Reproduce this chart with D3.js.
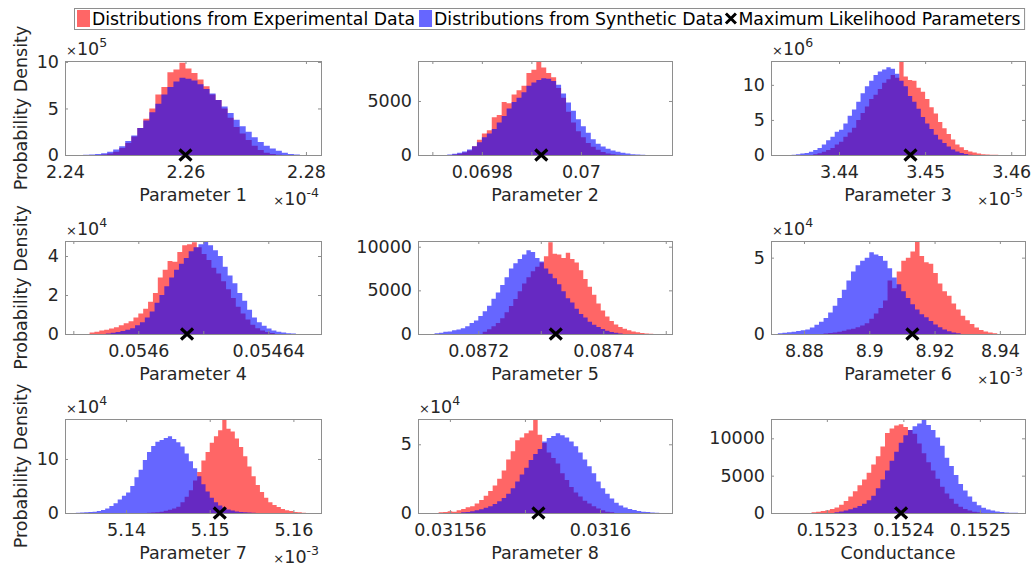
<!DOCTYPE html>
<html>
<head>
<meta charset="utf-8">
<script src="https://cdn.jsdelivr.net/npm/d3@7"></script>
<style>
body { margin: 0; background: #fff; }
svg { display: block; font-family: "DejaVu Sans", sans-serif; }
</style>
</head>
<body>
<svg width="1034" height="579"></svg>
<script>
// ---- data ----
var xLabels = ["Parameter 1", "Parameter 2", "Parameter 3", "Parameter 4", "Parameter 5",
  "Parameter 6", "Parameter 7", "Parameter 8", "Conductance"];
var legendLabels = ["Distributions from Experimental Data", "Distributions from Synthetic Data",
  "Maximum Likelihood Parameters"];

var xLimits = [[2.24, 2.2825], [0.069671, 0.070184], [3.4321, 3.4616], [0.05457744, 0.05465622],
  [0.0871035, 0.08751], [8.8699, 8.9477], [5.1327, 5.1633], [0.0315515, 0.0316192], [0.152227, 0.152559]];
var yLimits = [10.1, 8700, 13.4, 4.77, 10655, 6.09, 17.4, 6.84, 12587];

var xTicks = [[2.24, 2.26, 2.28], [0.0697, 0.0698, 0.0699, 0.07], [3.44, 3.45, 3.46],
  [0.05458, 0.0546, 0.05462, 0.05464], [0.0872, 0.0873, 0.0874, 0.0875], [8.88, 8.9, 8.92, 8.94],
  [5.14, 5.15, 5.16], [0.03156, 0.03158, 0.0316], [0.1523, 0.1524, 0.1525]];
var xTickText = [["2.24", "2.26", "2.28"], ["", "0.0698", "", "0.07"], ["3.44", "3.45", "3.46"],
  ["", "0.0546", "", "0.05464"], ["0.0872", "", "0.0874", ""], ["8.88", "8.9", "8.92", "8.94"],
  ["5.14", "5.15", "5.16"], ["0.03156", "", "0.0316"], ["0.1523", "0.1524", "0.1525"]];
var yTicks = [[0, 5, 10], [0, 5000], [0, 5, 10], [0, 2, 4], [0, 5000, 10000], [0, 5], [0, 10], [0, 5], [0, 5000, 10000]];
var yExponent = [5, null, 6, 4, null, 4, 4, 4, null];
var xExponent = [-4, null, -5, null, null, -3, -3, null, null];

var mleValues = [2.26, 0.06992, 3.4483, 0.054615, 0.087324, 8.9132, 5.1512, 0.0315836, 0.152397];

// histogram bins: first edge + width, heights per bin
var expFirstEdge = [2.246, 0.06974, 3.437, 0.054585, 0.087207, 8.886, 5.1425, 0.031557, 0.15228];
var synFirstEdge = [2.243, 0.06973, 3.4345, 0.05459, 0.08713, 8.872, 5.134, 0.031563, 0.15231];
var binWidths = [0.001, 0.00001, 0.0005, 0.0000015, 0.000007, 0.0014, 0.0005, 0.0000012, 0.000006];

var exp1 = [0.05,0.15,0.35,0.75,1.3,2.0,2.9,3.9,5.0,6.5,7.3,8.9,9.2,9.9,9.3,8.8,8.1,7.4,6.5,5.9,5.0,4.0,3.0,2.3,1.6,1.0,0.55,0.25,0.1,0.03];
var syn1 = [0.02,0.05,0.1,0.2,0.35,0.6,0.95,1.5,2.1,2.9,3.7,4.6,5.5,6.5,7.3,7.9,8.3,8.2,8.0,7.6,7.1,6.6,5.9,5.2,4.5,3.8,3.1,2.5,1.9,1.4,1.0,0.7,0.45,0.25,0.12,0.05];
var exp2 = [40,110,230,420,800,1400,2000,2300,3500,3700,4900,4800,5600,6000,6400,7600,7900,8600,8100,7600,7200,6200,5300,4000,3000,2200,1650,1100,760,480,280,150,70,30];
var syn2 = [50,110,200,330,520,800,1180,1650,2000,2400,3000,3600,4300,4900,5300,5800,6400,6700,6950,7100,7050,6850,6500,5700,4850,4100,3300,2650,2050,1450,1050,780,580,420,300,210,130,80,45,22,8];
var exp3 = [0.1,0.25,0.45,0.7,1.0,1.5,1.9,2.6,3.2,3.9,5.0,6.0,6.9,8.0,8.6,9.4,10.3,10.8,11.4,11.0,13.3,11.2,10.7,10.6,9.6,9.0,8.0,6.8,5.9,4.7,3.8,3.0,2.2,1.5,1.1,0.7,0.5,0.35,0.2,0.12,0.08,0.05,0.03];
var syn3 = [0.05,0.1,0.2,0.3,0.45,0.7,1.0,1.5,2.1,2.6,3.3,3.6,4.5,5.6,6.5,7.6,8.8,9.8,10.6,11.4,11.9,12.2,12.5,12.3,11.6,10.6,9.8,8.4,7.6,6.6,5.4,4.5,3.7,2.9,2.2,1.7,1.2,0.8,0.5,0.3,0.15,0.05];
var exp4 = [0.08,0.12,0.18,0.22,0.28,0.35,0.45,0.55,0.65,0.85,1.05,1.3,1.65,2.1,2.9,3.3,3.75,3.7,4.2,4.55,4.6,4.7,4.45,4.1,3.8,3.4,3.1,2.7,2.3,1.85,1.4,1.05,0.75,0.48,0.3,0.18,0.1,0.05];
var syn4 = [0.03,0.06,0.1,0.15,0.22,0.3,0.45,0.6,0.85,1.15,1.6,2.0,2.45,2.9,3.3,3.6,3.9,4.25,4.45,4.6,4.75,4.55,4.3,4.0,3.45,3.0,2.6,2.1,1.7,1.25,0.85,0.6,0.42,0.28,0.18,0.12,0.08,0.04,0.02];
var exp5 = [250,550,900,1250,1800,2500,3200,4000,4900,5800,6500,7200,7700,8200,8900,10500,9200,9100,8700,9300,8600,8200,7300,6300,5400,4500,3500,2700,2000,1500,1100,800,600,420,300,200,120,60,30];
var syn5 = [80,140,250,300,420,520,650,900,1250,1550,2050,2600,3250,4050,4750,5600,6500,7500,8100,8600,9100,9600,9400,8700,8300,7500,6900,6400,5700,4900,4100,3600,2900,2300,1900,1400,1050,800,560,380,240,140,70];
var exp6 = [0.03,0.06,0.1,0.15,0.22,0.3,0.35,0.45,0.55,0.7,1.0,1.35,1.7,2.2,3.5,3.0,4.1,4.8,5.0,5.4,6.05,5.1,4.7,4.6,4.0,3.3,2.8,2.5,2.0,1.6,1.2,0.9,0.65,0.42,0.26,0.16,0.1,0.05];
var syn6 = [0.05,0.08,0.12,0.15,0.2,0.25,0.3,0.42,0.6,0.8,1.05,1.4,1.85,2.35,2.9,3.5,4.1,4.5,4.8,5.0,5.35,5.2,5.1,4.8,4.3,3.7,3.25,2.8,2.35,1.95,1.6,1.3,1.1,0.85,0.62,0.45,0.3,0.18,0.1,0.05];
var exp7 = [0.05,0.08,0.15,0.25,0.4,0.6,0.85,1.15,2.0,3.0,4.2,6.0,7.6,9.7,11.3,13.0,14.2,15.3,17.3,15.6,15.1,13.8,12.2,10.5,8.6,6.8,5.2,3.9,2.8,2.0,1.5,1.1,0.75,0.5,0.35,0.2,0.12,0.06];
var syn7 = [0.05,0.08,0.12,0.18,0.25,0.38,0.55,0.85,1.3,1.8,2.5,3.2,3.8,5.0,6.6,8.0,9.8,11.3,12.4,13.2,13.5,13.9,14.2,13.7,13.1,12.3,11.0,9.6,8.3,6.8,5.3,4.0,2.8,2.0,1.4,1.0,0.65,0.45,0.3,0.2,0.12,0.07,0.04];
var exp8 = [0.05,0.08,0.12,0.1,0.2,0.3,0.42,0.5,0.7,0.95,1.25,1.6,2.0,2.5,3.1,3.9,4.5,5.3,5.5,5.8,6.0,6.8,5.7,5.1,4.4,4.0,3.6,2.9,2.4,1.9,1.5,1.2,0.9,0.7,0.5,0.32,0.2,0.1,0.05];
var syn8 = [0.05,0.08,0.12,0.2,0.28,0.38,0.5,0.65,0.85,1.1,1.4,1.8,2.3,2.8,3.3,3.85,4.3,4.65,5.2,5.45,5.6,5.8,5.65,5.5,5.2,4.85,4.4,3.9,3.4,2.9,2.3,1.8,1.4,1.05,0.75,0.55,0.4,0.3,0.22,0.15,0.1,0.07,0.04,0.02];
var exp9 = [100,180,270,380,520,750,1100,1600,2200,2900,3700,4500,5400,6500,7600,8900,10700,11300,11700,11900,11500,11100,10600,9300,8000,6800,5700,4600,3500,2600,1900,1250,850,550,330,180,90];
var syn9 = [100,200,330,500,700,950,1250,1700,2300,3300,4500,5700,7000,8200,9400,10400,11100,11600,12000,12500,11800,11100,10100,9000,7400,6300,5100,3900,3000,2200,1500,1050,700,480,320,200,130,80,50,25];

var expHeights = [exp1, exp2, exp3, exp4, exp5, exp6, exp7, exp8, exp9];
var synHeights = [syn1, syn2, syn3, syn4, syn5, syn6, syn7, syn8, syn9];

// ---- drawing ----
var svg = d3.select("svg");
var ink = "#262626", frame = "#8e8e8e";
var fs = 17.5;
var colLeft = [65, 418, 771], colRight = [321, 672, 1025];
var rowTop = [61, 241, 419], rowBottom = [155, 334, 513];

function binPoints(first, w, hs) {
  var pts = hs.map(function(h, j) { return [first + j * w, h]; });
  pts.push([first + hs.length * w, hs[hs.length - 1]]);
  return pts;
}

function exponentText(sel, power) {
  sel.append("tspan").attr("font-size", 13).text("\u00d7");
  sel.append("tspan").text("10");
  sel.append("tspan").attr("font-size", 12.5).attr("dy", -8).text(power);
}

xLabels.forEach(function(label, i) {
  var c = i % 3, r = Math.floor(i / 3);
  var x0 = colLeft[c], x1 = colRight[c], y0 = rowTop[r], y1 = rowBottom[r];
  var x = d3.scaleLinear().domain(xLimits[i]).range([x0, x1]);
  var y = d3.scaleLinear().domain([0, yLimits[i]]).range([y1, y0]);

  var g = svg.append("g");
  g.append("clipPath").attr("id", "clip" + i)
    .append("rect").attr("x", x0).attr("y", y0).attr("width", x1 - x0).attr("height", y1 - y0);

  var area = d3.area()
    .x(function(d) { return x(d[0]); })
    .y0(y(0))
    .y1(function(d) { return y(d[1]); })
    .curve(d3.curveStepAfter);

  var plot = g.append("g").attr("clip-path", "url(#clip" + i + ")");
  plot.append("path")
    .attr("d", area(binPoints(expFirstEdge[i], binWidths[i], expHeights[i])))
    .attr("fill", "#ff0000").attr("fill-opacity", 0.6);
  plot.append("path")
    .attr("d", area(binPoints(synFirstEdge[i], binWidths[i], synHeights[i])))
    .attr("fill", "#0000ff").attr("fill-opacity", 0.6);

  // axes
  var fmt = function(d, j) { return xTickText[i][j]; };
  var ax = [
    g.append("g").attr("transform", "translate(0," + y1 + ")")
      .call(d3.axisBottom(x).tickValues(xTicks[i]).tickFormat(fmt).tickSizeInner(-3).tickSizeOuter(0).tickPadding(10.5)),
    g.append("g").attr("transform", "translate(0," + y0 + ")")
      .call(d3.axisTop(x).tickValues(xTicks[i]).tickFormat("").tickSizeInner(-3).tickSizeOuter(0)),
    g.append("g").attr("transform", "translate(" + x0 + ",0)")
      .call(d3.axisLeft(y).tickValues(yTicks[i]).tickFormat(d3.format("d")).tickSizeInner(-3).tickSizeOuter(0).tickPadding(6)),
    g.append("g").attr("transform", "translate(" + x1 + ",0)")
      .call(d3.axisRight(y).tickValues(yTicks[i]).tickFormat("").tickSizeInner(-3).tickSizeOuter(0))
  ];
  ax.forEach(function(a) {
    a.select(".domain").remove();
    a.selectAll("line").attr("stroke", frame);
    a.selectAll("text").attr("fill", ink).attr("font-size", fs).attr("font-family", "DejaVu Sans");
  });

  g.append("rect")
    .attr("x", x0 + 0.5).attr("y", y0 + 0.5)
    .attr("width", x1 - x0).attr("height", y1 - y0)
    .attr("fill", "none").attr("stroke", frame);

  // maximum likelihood marker
  g.append("path")
    .attr("transform", "translate(" + x(mleValues[i]) + "," + y(0) + ")")
    .attr("d", "M-6,-5.5L6,5.5M-6,5.5L6,-5.5")
    .attr("stroke", "#000").attr("stroke-width", 3.2).attr("fill", "none");

  g.append("text")
    .attr("x", (x0 + x1) / 2).attr("y", y1 + 46)
    .attr("text-anchor", "middle").attr("font-size", fs).attr("fill", ink)
    .text(label);

  if (yExponent[i] !== null) {
    g.append("text").attr("x", x0 + 1).attr("y", y0 - 6)
      .attr("font-size", fs).attr("fill", ink)
      .call(exponentText, String(yExponent[i]));
  }
  if (xExponent[i] !== null) {
    g.append("text").attr("x", x1 - 2).attr("y", y1 + 50)
      .attr("text-anchor", "end").attr("font-size", fs).attr("fill", ink)
      .call(exponentText, String(xExponent[i]));
  }
});

// row y labels
rowTop.forEach(function(t, r) {
  var cy = (t + rowBottom[r]) / 2;
  svg.append("text")
    .attr("transform", "translate(27," + cy + ") rotate(-90)")
    .attr("text-anchor", "middle").attr("font-size", fs).attr("fill", ink)
    .text("Probability Density");
});

// legend
var leg = svg.append("g");
var legBox = leg.append("rect").attr("y", 8.5).attr("height", 21)
  .attr("fill", "#fff").attr("stroke", frame);
var lx = 77;
var swatches = ["#ff0000", "#0000ff", null];
legendLabels.forEach(function(txt, k) {
  if (swatches[k]) {
    leg.append("rect").attr("x", lx).attr("y", 10).attr("width", 13).attr("height", 17)
      .attr("fill", swatches[k]).attr("fill-opacity", 0.6);
    lx += 15;
  } else {
    leg.append("path")
      .attr("transform", "translate(" + (lx + 5.5) + ",18.5)")
      .attr("d", "M-5,-5L5,5M-5,5L5,-5")
      .attr("stroke", "#000").attr("stroke-width", 3).attr("fill", "none");
    lx += 13;
  }
  var t = leg.append("text").attr("x", lx).attr("y", 25)
    .attr("font-size", 17.3).attr("fill", "#000").text(txt);
  lx += t.node().getComputedTextLength() + (k === 0 ? 4 : 2);
});
legBox.attr("x", 74.5).attr("width", lx + 2 - 74.5);
</script>
</body>
</html>
